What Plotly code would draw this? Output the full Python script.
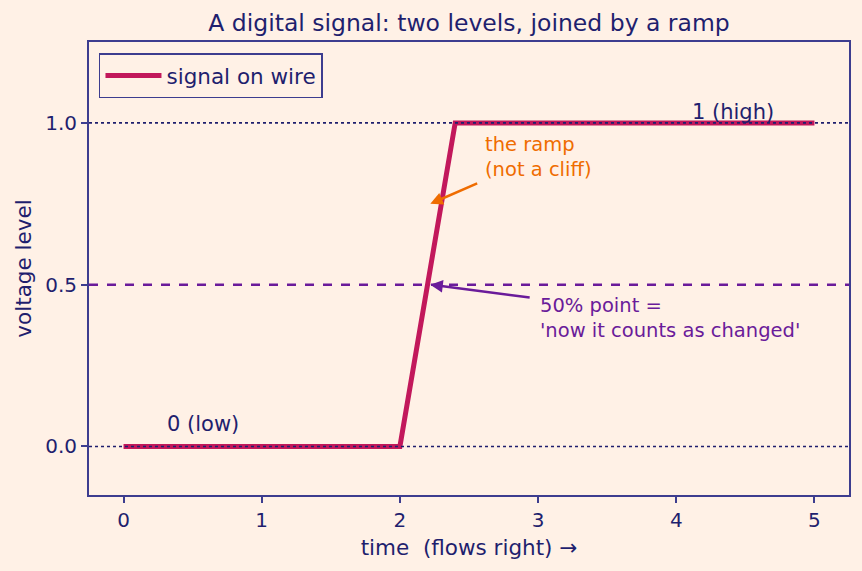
import plotly.graph_objects as go

# data
sig_t = [0, 2, 2.4, 5]
sig_v = [0, 0, 1, 1]
levels = [0.0, 1.0]
threshold = 0.5
x_ticks = [0, 1, 2, 3, 4, 5]
y_ticks = [0.0, 0.5, 1.0]
y_ticklabels = ["0.0", "0.5", "1.0"]

BG = "#fff1e6"
NAVY = "#1f1f6e"
AXC = "#3d3d8f"
CRIMSON = "#c2185b"
ORANGE = "#ef6c00"
PURPLE = "#6a1b9a"
FONT = "DejaVu Sans"

fig = go.Figure()
fig.add_trace(go.Scatter(x=sig_t, y=sig_v, mode="lines", name="signal on wire",
                         line=dict(color=CRIMSON, width=5)))

xr = [-0.25, 5.25]
for lv in levels:
    fig.add_trace(go.Scatter(x=xr, y=[lv, lv], mode="lines", showlegend=False,
                             line=dict(color=NAVY, width=1.6, dash="dot"), hoverinfo="skip"))
fig.add_trace(go.Scatter(x=xr, y=[threshold, threshold], mode="lines", showlegend=False,
                         line=dict(color=PURPLE, width=2.5, dash="dash"), hoverinfo="skip"))

ann = []
ann.append(dict(x=0.3, y=0.025, text="0 (low)", showarrow=False, xanchor="left", yanchor="bottom",
                font=dict(color=NAVY, size=21)))
ann.append(dict(x=4.1, y=0.99, text="1 (high)", showarrow=False, xanchor="left", yanchor="bottom",
                font=dict(color=NAVY, size=21)))
# ramp arrow
ann.append(dict(x=2.22, y=0.75, ax=2.57, ay=0.815, axref="x", ayref="y", text="", showarrow=True,
                arrowhead=2, arrowsize=1, arrowwidth=2.5, arrowcolor=ORANGE))
ann.append(dict(x=2.6, y=0.815, text="the ramp<br>(not a cliff)", showarrow=False, align="left",
                xanchor="left", yanchor="bottom", font=dict(color=ORANGE, size=19.5)))
# 50% arrow
ann.append(dict(x=2.22, y=0.5, ax=2.95, ay=0.46, axref="x", ayref="y", text="", showarrow=True,
                arrowhead=2, arrowsize=1, arrowwidth=2.5, arrowcolor=PURPLE))
ann.append(dict(x=3.0, y=0.318, text="50% point =<br>'now it counts as changed'", showarrow=False,
                align="left", xanchor="left", yanchor="bottom", font=dict(color=PURPLE, size=19.5)))

fig.update_layout(
    width=862, height=571,
    paper_bgcolor=BG, plot_bgcolor=BG,
    font=dict(family=FONT, color=NAVY, size=20),
    margin=dict(l=89, r=13, t=42, b=76),
    title=dict(text="A digital signal: two levels, joined by a ramp", xref="paper", x=0.5,
               xanchor="center", y=0.96, yanchor="middle", font=dict(size=23.5, color=NAVY)),
    showlegend=True,
    legend=dict(x=0.013, y=0.975, xanchor="left", yanchor="top", bgcolor=BG,
                bordercolor=AXC, borderwidth=1.6, itemwidth=56,
                font=dict(size=21.5, color=NAVY)),
    annotations=ann,
)
fig.update_xaxes(range=xr, tickvals=x_ticks, showgrid=False, zeroline=False,
                 showline=True, linecolor=AXC, linewidth=2, mirror=True,
                 ticks="outside", ticklen=6, tickcolor=AXC, tickwidth=1.6,
                 title=dict(text="time  (flows right) →", font=dict(size=21.5, color=NAVY), standoff=9),
                 tickfont=dict(size=20, color=NAVY))
fig.update_yaxes(range=[-0.15, 1.25], tickvals=y_ticks, ticktext=y_ticklabels, showgrid=False,
                 zeroline=False, showline=True, linecolor=AXC, linewidth=2, mirror=True,
                 ticks="outside", ticklen=6, tickcolor=AXC, tickwidth=1.6,
                 title=dict(text="voltage level", font=dict(size=21.5, color=NAVY), standoff=8),
                 tickfont=dict(size=20, color=NAVY))

fig.write_html("out.html")
